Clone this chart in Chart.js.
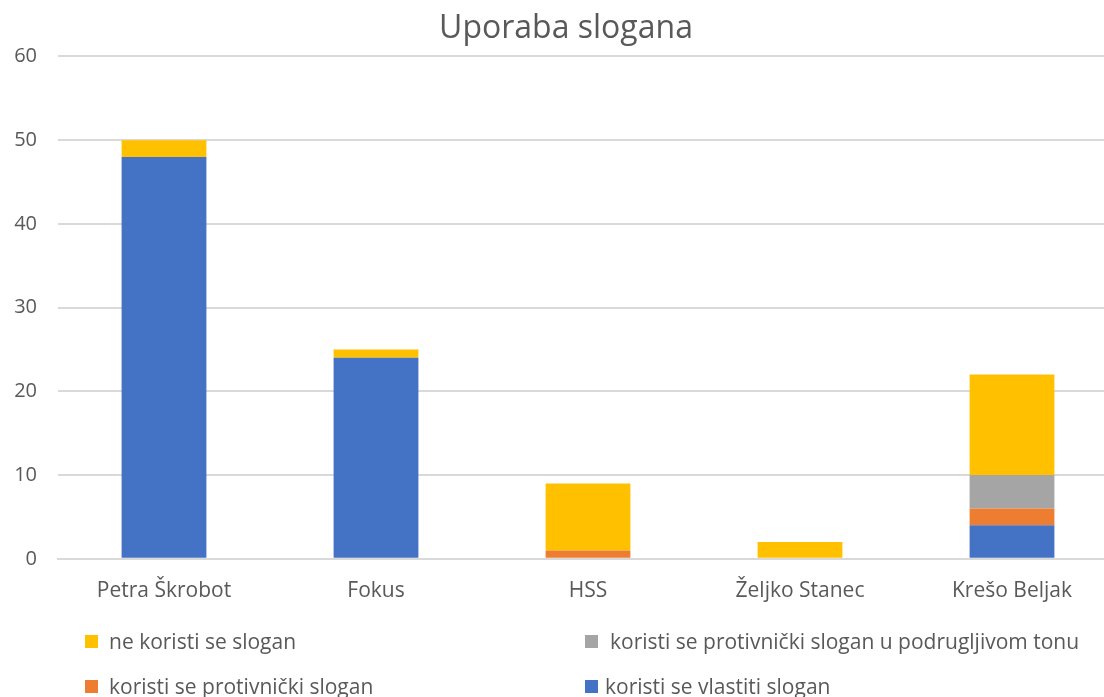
<!DOCTYPE html>
<html>
<head>
<meta charset="utf-8">
<script src="https://cdn.jsdelivr.net/npm/chart.js@4.4.1/dist/chart.umd.min.js"></script>
<style>
    html, body { margin: 0; padding: 0; background: #fff; overflow: hidden; }
    #wrap { position: relative; width: 1118px; height: 697px; }
    #legend { position: absolute; left: 0; top: 0; width: 1104px; height: 697px; pointer-events: none;
        font-family: "Open Sans", sans-serif; font-size: 21px; color: #595959; }
    .item { position: absolute; white-space: nowrap; line-height: 24px; height: 24px; }
    .box { position: absolute; left: 0; top: 6px; width: 13px; height: 13px; }
    .txt { position: absolute; top: 0; }
</style>
</head>
<body>
<div id="wrap">
    <canvas id="myChart" width="1118" height="697"></canvas>
    <div id="legend"></div>
</div>
<script>
const categories = ['Petra Škrobot', 'Fokus', 'HSS', 'Željko Stanec', 'Krešo Beljak'];
const vlastiti = [48, 24, 0, 0, 4];
const protivnicki = [0, 0, 1, 0, 2];
const podrugljivo = [0, 0, 0, 0, 4];
const neKoristi = [2, 1, 8, 2, 12];
const yTicks = [0, 10, 20, 30, 40, 50, 60];

const datasets = [
    { label: 'koristi se vlastiti slogan', data: vlastiti, backgroundColor: '#4472c4' },
    { label: 'koristi se protivnički slogan', data: protivnicki, backgroundColor: '#ed7d31' },
    { label: 'koristi se protivnički slogan u podrugljivom tonu', data: podrugljivo, backgroundColor: '#a5a5a5' },
    { label: 'ne koristi se slogan', data: neKoristi, backgroundColor: '#ffc000' }
];

// legend positions: yellow, gray on first row; orange, blue on second
const legendSpots = [
    { idx: 3, left: 85, top: 629, gap: 24 },
    { idx: 2, left: 585, top: 629, gap: 25 },
    { idx: 1, left: 85, top: 674, gap: 24 },
    { idx: 0, left: 585, top: 674, gap: 20 }
];

const ctx = document.getElementById('myChart').getContext('2d');
new Chart(ctx, {
    type: 'bar',
    data: {
        labels: categories,
        datasets: datasets.map(d => Object.assign({}, d, {
            barPercentage: 0.4,
            categoryPercentage: 1.0,
            borderWidth: 0
        }))
    },
    options: {
        responsive: false,
        animation: false,
        layout: { padding: { left: 14, right: 0, top: 6, bottom: 81 } },
        scales: {
            x: {
                stacked: true,
                grid: { display: false },
                border: { color: '#d9d9d9', width: 2 },
                ticks: { color: '#595959', font: { family: 'Open Sans', size: 21 }, padding: 12 }
            },
            y: {
                stacked: true,
                min: 0,
                max: 60,
                afterBuildTicks: axis => { axis.ticks = yTicks.map(v => ({ value: v })); },
                afterFit: axis => { axis.width = 44; },
                grid: { color: '#d9d9d9', lineWidth: 2, drawTicks: false },
                border: { display: false },
                ticks: { color: '#595959', font: { family: 'Open Sans', size: 20 }, padding: 21 }
            }
        },
        plugins: {
            legend: { display: false },
            tooltip: { enabled: false },
            title: {
                display: true,
                text: 'Uporaba slogana',
                color: '#595959',
                font: { family: 'Open Sans', size: 32, weight: 'normal' },
                padding: { top: 4, bottom: 8 }
            }
        }
    }
});

const legendDiv = document.getElementById('legend');
legendSpots.forEach(s => {
    const d = datasets[s.idx];
    const el = document.createElement('div');
    el.className = 'item';
    el.style.left = s.left + 'px';
    el.style.top = s.top + 'px';
    el.innerHTML = '<span class="box" style="background:' + d.backgroundColor + '"></span>' +
        '<span class="txt" style="left:' + s.gap + 'px">' + d.label + '</span>';
    legendDiv.appendChild(el);
});
</script>
</body>
</html>
